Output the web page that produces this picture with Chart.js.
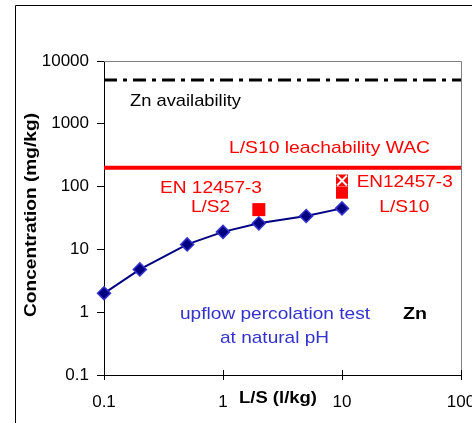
<!DOCTYPE html>
<html>
<head>
<meta charset="utf-8">
<script src="https://cdn.jsdelivr.net/npm/chart.js@4/dist/chart.umd.min.js"></script>
<style>
  html, body { margin: 0; padding: 0; background: #ffffff; }
  canvas { display: block; }
</style>
</head>
<body>
<canvas id="c" width="472" height="423"></canvas>
<script>
// ---- data ----
const lsValues = [0.1, 0.2, 0.5, 1, 2, 5, 10];
const upflowZn = [2, 4.8, 12, 19, 26, 34, 45];
const en12457LS2 = { x: [2], y: [43] };
const en12457LS10 = { x: [10], y: [80] };
const en12457LS10b = { x: [10], y: [125] };
const wacLimit = 200;
const znAvailability = 5000;
const xRange = [0.1, 100];
const yRange = [0.1, 10000];
const xTicks = [0.1, 1, 10, 100];
const yTicks = [0.1, 1, 10, 100, 1000, 10000];

const FONT = '"Liberation Sans", Arial, sans-serif';

function pts(xs, ys) { return xs.map((x, i) => ({ x: x, y: ys[i] })); }

const labels = [
  { t: 'Zn availability', cx: 185.5, cy: 101, w: 111, c: '#000000', b: false },
  { t: 'L/S10 leachability WAC', cx: 329.5, cy: 148, w: 201, c: '#ff0000', b: false },
  { t: 'EN 12457-3', cx: 211, cy: 188, w: 102, c: '#ff0000', b: false },
  { t: 'L/S2', cx: 210.5, cy: 207, w: 39, c: '#ff0000', b: false },
  { t: 'EN12457-3', cx: 404.7, cy: 182, w: 96, c: '#ff0000', b: false },
  { t: 'L/S10', cx: 404.3, cy: 207, w: 50, c: '#ff0000', b: false },
  { t: 'upflow percolation test', cx: 275, cy: 314, w: 190, c: '#3333cc', b: false },
  { t: 'at natural pH', cx: 274.5, cy: 338, w: 109, c: '#3333cc', b: false },
  { t: 'Zn', cx: 415, cy: 314, w: 24, c: '#000000', b: true },
  { t: 'L/S (l/kg)', cx: 278, cy: 398, w: 78, c: '#000000', b: true }
];

function drawStretched(ctx, l, size) {
  ctx.save();
  ctx.font = (l.b ? 'bold ' : '') + size + 'px ' + FONT;
  ctx.fillStyle = l.c;
  ctx.textAlign = 'center';
  ctx.textBaseline = 'middle';
  const mw = ctx.measureText(l.t).width;
  const sx = l.w / mw;
  ctx.translate(l.cx, l.cy);
  ctx.scale(sx, 1);
  ctx.fillText(l.t, 0, 0);
  ctx.restore();
}

const decor = {
  id: 'decor',
  beforeDatasetsDraw(chart) {
    const ctx = chart.ctx;
    const a = chart.chartArea;
    ctx.save();
    ctx.strokeStyle = '#808080';
    ctx.lineWidth = 1;
    ctx.beginPath();
    ctx.moveTo(a.left, a.top + 0.5);
    ctx.lineTo(a.right + 0.5, a.top + 0.5);
    ctx.lineTo(a.right + 0.5, a.bottom);
    ctx.stroke();
    // inner half of crossing x ticks
    ctx.strokeStyle = '#000000';
    ctx.beginPath();
    xTicks.forEach(v => {
      const px = Math.round(chart.scales.x.getPixelForValue(v)) + 0.5;
      ctx.moveTo(px, a.bottom);
      ctx.lineTo(px, a.bottom - 5);
    });
    ctx.stroke();
    ctx.restore();
  },
  afterDraw(chart) {
    const ctx = chart.ctx;
    ctx.save();
    // outer frame
    ctx.strokeStyle = '#000000';
    ctx.lineWidth = 1;
    ctx.beginPath();
    ctx.moveTo(15.5, 423);
    ctx.lineTo(15.5, 5.5);
    ctx.lineTo(472, 5.5);
    ctx.stroke();
    ctx.restore();
    labels.forEach(l => drawStretched(ctx, l, 17));
    // y axis title
    ctx.save();
    ctx.font = 'bold 17px ' + FONT;
    ctx.fillStyle = '#000000';
    ctx.textAlign = 'center';
    ctx.textBaseline = 'middle';
    const t = 'Concentration (mg/kg)';
    const mw = ctx.measureText(t).width;
    ctx.translate(31, 215);
    ctx.rotate(-Math.PI / 2);
    ctx.scale(204 / mw, 1);
    ctx.fillText(t, 0, 0);
    ctx.restore();
  }
};

new Chart(document.getElementById('c'), {
  type: 'scatter',
  data: {
    datasets: [
      {
        label: 'EN12457-3 L/S10 (2) x',
        data: pts(en12457LS10b.x, en12457LS10b.y),
        pointStyle: 'crossRot', pointRadius: 7,
        pointBorderColor: '#ffffff', pointBorderWidth: 2, clip: false
      },
      {
        label: 'EN12457-3 L/S10 (2)',
        data: pts(en12457LS10b.x, en12457LS10b.y),
        pointStyle: 'rect', pointRadius: 8.5,
        pointBackgroundColor: '#ff0000', pointBorderWidth: 0, clip: false
      },
      {
        label: 'EN12457-3 L/S10',
        data: pts(en12457LS10.x, en12457LS10.y),
        pointStyle: 'rect', pointRadius: 8.5,
        pointBackgroundColor: '#ff0000', pointBorderWidth: 0, clip: false
      },
      {
        label: 'EN 12457-3 L/S2',
        data: pts(en12457LS2.x, en12457LS2.y),
        pointStyle: 'rect', pointRadius: 9.2,
        pointBackgroundColor: '#ff0000', pointBorderWidth: 0, clip: false
      },
      {
        label: 'upflow percolation test',
        data: pts(lsValues, upflowZn),
        showLine: true, borderColor: '#000080', borderWidth: 2,
        pointStyle: 'rectRot', pointRadius: 6.5,
        pointBackgroundColor: '#000080', pointBorderColor: '#3333cc',
        pointBorderWidth: 1.5, clip: false
      },
      {
        label: 'L/S10 leachability WAC',
        data: pts(xRange, [wacLimit, wacLimit]),
        showLine: true, borderColor: '#ff0000', borderWidth: 4,
        pointRadius: 0, clip: false
      },
      {
        label: 'Zn availability',
        data: pts(xRange, [znAvailability, znAvailability]),
        showLine: true, borderColor: '#000000', borderWidth: 3,
        borderDash: [13, 6, 4, 6], pointRadius: 0, clip: false
      }
    ]
  },
  options: {
    responsive: false,
    animation: false,
    events: [],
    layout: { padding: { left: 0, right: 11, top: 61, bottom: 0 } },
    plugins: { legend: { display: false }, tooltip: { enabled: false }, title: { display: false } },
    scales: {
      x: {
        type: 'logarithmic', min: xRange[0], max: xRange[1],
        afterBuildTicks: s => { s.ticks = xTicks.map(v => ({ value: v })); },
        afterFit: s => { s.height = 48; s.paddingLeft = 0; s.paddingRight = 0; },
        ticks: {
          autoSkip: false, maxRotation: 0, padding: 12, color: '#000000',
          font: { family: FONT, size: 17 },
          callback: v => String(v)
        },
        grid: { drawOnChartArea: false, drawTicks: true, tickLength: 5, color: '#000000' },
        border: { display: true, color: '#000000', width: 1 }
      },
      y: {
        type: 'logarithmic', min: yRange[0], max: yRange[1],
        afterBuildTicks: s => { s.ticks = yTicks.map(v => ({ value: v })); },
        afterFit: s => { s.width = 104; s.paddingTop = 0; s.paddingBottom = 0; },
        ticks: {
          autoSkip: false, padding: 8, color: '#000000',
          font: { family: FONT, size: 17 },
          callback: v => String(v)
        },
        grid: { drawOnChartArea: false, drawTicks: true, tickLength: 7, color: '#000000' },
        border: { display: true, color: '#000000', width: 1 }
      }
    }
  },
  plugins: [decor]
});
</script>
</body>
</html>
